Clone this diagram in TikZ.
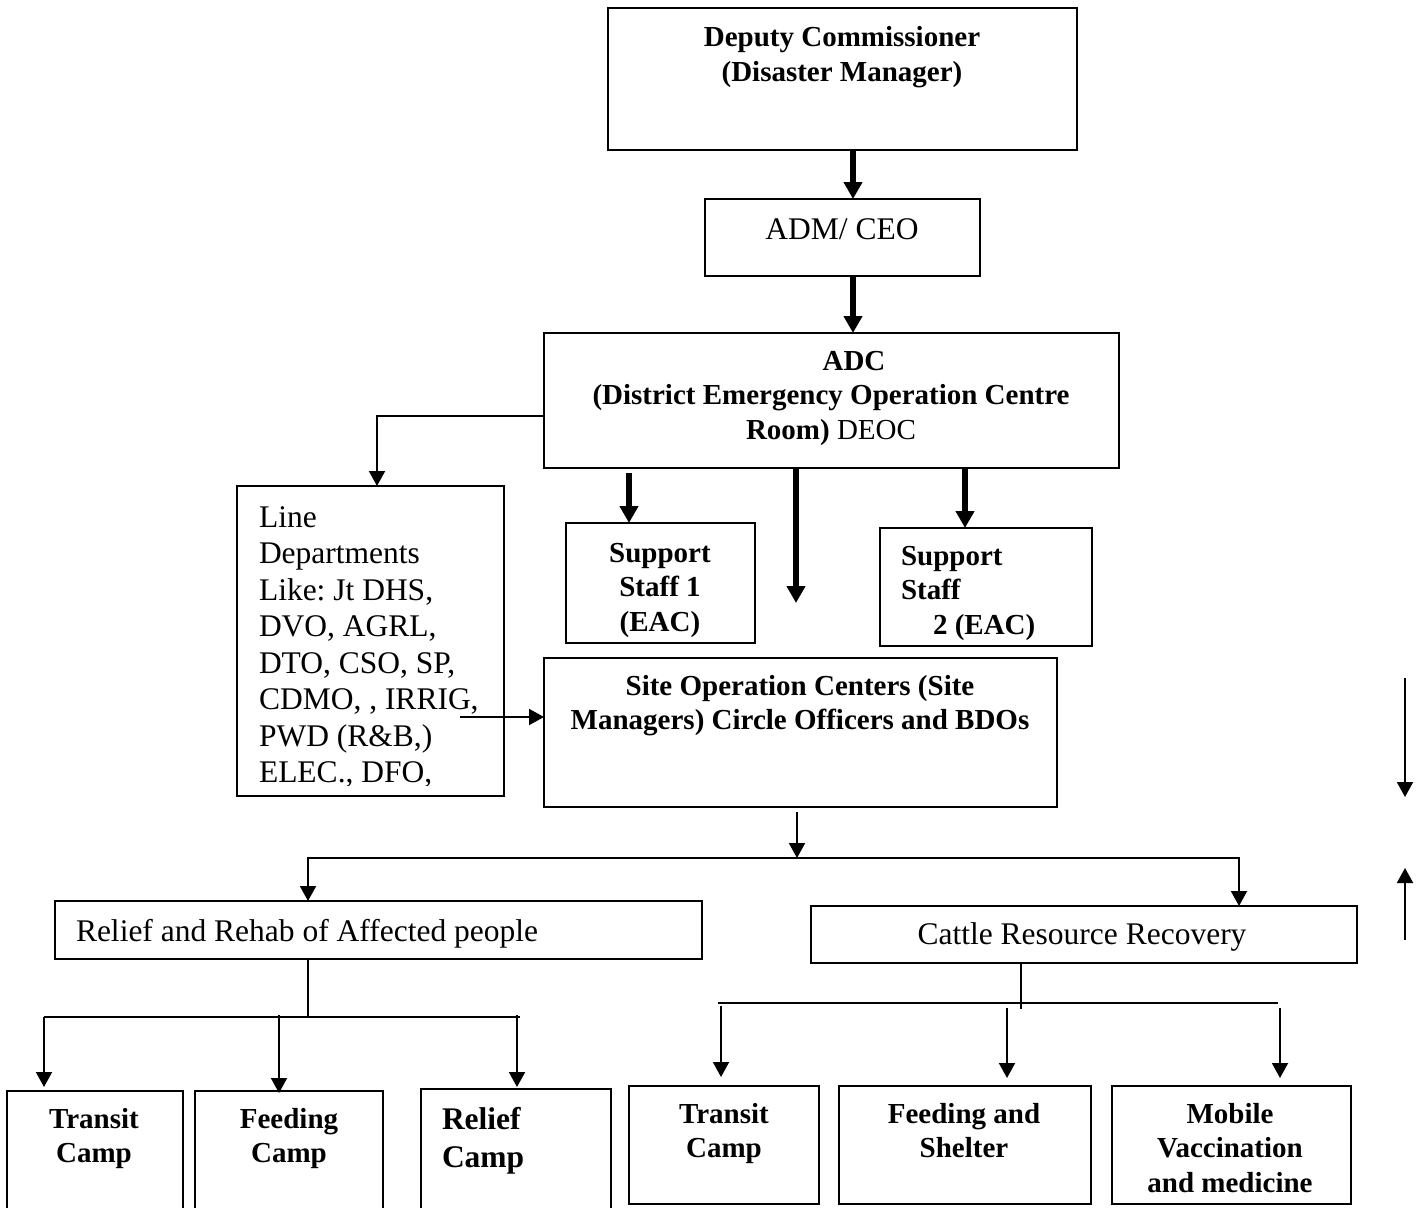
\documentclass[tikz,border=0pt]{standalone}
\usepackage{fontspec}
\setmainfont{Liberation Serif}
\usetikzlibrary{arrows.meta,calc}
\frenchspacing
\newcommand\rgfont{\fontsize{31.5}{36.5}\selectfont}
\newcommand\bdfont{\fontsize{29}{34.5}\selectfont\bfseries}
\newcommand\bdbigfont{\fontsize{31.5}{38}\selectfont\bfseries}
\newcommand\mkbox[5]{\node[box,minimum width={#4-#2},minimum height={#5-#3}] (#1) at ({(#2+#4)/2},{(#3+#5)/2}) {};}
\tikzset{
  box/.style={draw,line width=2.5pt,inner sep=0pt,outer sep=0pt},
  lbl/.style={inner sep=0pt,outer sep=0pt,anchor=base},
  lbll/.style={inner sep=0pt,outer sep=0pt,anchor=base west},
  thinln/.style={line width=2pt},
  thinarr/.style={line width=2pt,-{Triangle[length=15pt,width=16pt]}},
  thkarr/.style={line width=5.5pt,-{Triangle[length=17pt,width=18pt]}},
}
\begin{document}
\begin{tikzpicture}[x=1pt,y=-1pt]
\useasboundingbox (0,0) rectangle (1421,1207);
% boxes
\mkbox{dc}{608}{8}{1077}{150}
\mkbox{adm}{705}{199}{980}{276}
\mkbox{adc}{544}{333}{1119}{468}
\mkbox{line}{237}{486}{504}{796}
\mkbox{ss1}{566}{523}{755}{643}
\mkbox{ss2}{880}{528}{1092}{646}
\mkbox{site}{544}{658}{1057}{807}
\mkbox{rr}{55}{901}{702}{959}
\mkbox{crr}{811}{906}{1357}{963}
\mkbox{t1}{7}{1091}{183}{1215}
\mkbox{f1}{195}{1091}{383}{1215}
\mkbox{r1}{421}{1089}{611}{1215}
\mkbox{t2}{629}{1086}{819}{1204}
\mkbox{f2}{839}{1086}{1091}{1204}
\mkbox{m2}{1112}{1086}{1351}{1204}
% texts
\node[lbl] (dct) at (842,47) {\bdfont\begin{tabular}[t]{@{}c@{}}Deputy Commissioner\\(Disaster Manager)\end{tabular}};
\node[lbl] (admt) at (842,239) {\rgfont ADM/ CEO};
\node[lbl] (adct) at (831,370) {\bdfont\begin{tabular}[t]{@{}c@{}}\hspace*{46pt}ADC\\(District Emergency Operation Centre\\Room)\mdseries{} DEOC\end{tabular}};
\begin{scope}
\clip (237,486) rectangle (504,785);
\node[lbll] (linet) at (259,527) {\rgfont\begin{tabular}[t]{@{}l@{}}Line\\Departments\\Like: Jt DHS,\\DVO, AGRL,\\DTO, CSO, SP,\\CDMO, , IRRIG,\\PWD (R\&B,)\\ELEC., DFO,\end{tabular}};
\end{scope}
\node[lbl] (ss1t) at (660,562) {\bdfont\begin{tabular}[t]{@{}c@{}}Support\\Staff 1\\(EAC)\end{tabular}};
\node[lbll] (ss2t) at (901,565) {\bdfont\begin{tabular}[t]{@{}l@{}}Support\\Staff\\\hspace*{32pt}2 (EAC)\end{tabular}};
\node[lbl] (sitet) at (800,695) {\bdfont\begin{tabular}[t]{@{}c@{}}Site Operation Centers (Site\\Managers) Circle Officers and BDOs\end{tabular}};
\node[lbll] (rrt) at (76,941) {\rgfont Relief and Rehab of Affected people};
\node[lbl] (crrt) at (1082,944) {\rgfont Cattle Resource Recovery};
\node[lbl] (t1t) at (94,1128) {\bdfont\begin{tabular}[t]{@{}c@{}}Transit\\Camp\end{tabular}};
\node[lbl] (f1t) at (289,1128) {\bdfont\begin{tabular}[t]{@{}c@{}}Feeding\\Camp\end{tabular}};
\node[lbll] (r1t) at (442,1129) {\bdbigfont\begin{tabular}[t]{@{}l@{}}Relief\\Camp\end{tabular}};
\node[lbl] (t2t) at (724,1123) {\bdfont\begin{tabular}[t]{@{}c@{}}Transit\\Camp\end{tabular}};
\node[lbl] (f2t) at (964,1123) {\bdfont\begin{tabular}[t]{@{}c@{}}Feeding and\\Shelter\end{tabular}};
\node[lbl] (m2t) at (1230,1123) {\bdfont\begin{tabular}[t]{@{}c@{}}Mobile\\Vaccination\\and medicine\end{tabular}};
% connectors
\coordinate (xm) at (853,0);
\draw[thkarr] (dc.south -| xm) -- (adm.north -| xm);
\draw[thkarr] (adm.south -| xm) -- (adc.north -| xm);
\coordinate (ldl) at (377,416);
\draw[thinarr] (adc.west |- ldl) -| (line.north -| ldl);
\coordinate (xs1) at (629,0);
\coordinate (xs2) at (965,0);
\coordinate (freec) at (796,603);
\draw[thkarr] ($(adc.south -| xs1)+(0,5)$) -- (ss1.north -| xs1);
\draw[thkarr] (adc.south -| freec) -- (freec);
\draw[thkarr] (adc.south -| xs2) -- (ss2.north -| xs2);
\coordinate (ldr) at (460,717);
\draw[thinarr] (ldr) -- (site.west |- ldr);
\coordinate (bus) at (797,858);
\coordinate (bL) at (308,858);
\coordinate (bR) at (1239,858);
\draw[thinarr] ($(site.south -| bus)+(0,5)$) -- (bus);
\draw[thinarr] (bus) -| (rr.north -| bL);
\draw[thinarr] (bus) -| (crr.north -| bR);
% left subtree
\coordinate (h1) at (308,1017);
\coordinate (h1a) at (44,1017);
\coordinate (h1c) at (520,1017);
\draw[thinln] (rr.south -| h1) -- (h1);
\draw[thinln] (h1a) -- (h1c);
\draw[thinarr] (h1a) -- ($(t1.north -| h1a)+(0,-4)$);
\coordinate (xf1) at (279,1015);
\draw[thinarr] (xf1) -- ($(f1.north -| xf1)+(0,2)$);
\coordinate (xr1) at (517,1015);
\draw[thinarr] (xr1) -- ($(r1.north -| xr1)+(0,-2)$);
% right subtree
\coordinate (h2) at (1021,1009);
\coordinate (h2a) at (718,1003);
\coordinate (h2b) at (1278,1003);
\draw[thinln] (crr.south -| h2) -- (h2);
\draw[thinln] (h2a) -- (h2b);
\coordinate (xt2) at (721,1006);
\draw[thinarr] (xt2) -- ($(t2.north -| xt2)+(0,-9)$);
\coordinate (xf2) at (1007,1008);
\draw[thinarr] (xf2) -- ($(f2.north -| xf2)+(0,-8)$);
\coordinate (xm2) at (1280,1008);
\draw[thinarr] (xm2) -- ($(m2.north -| xm2)+(0,-8)$);
% right margin arrows
\coordinate (dA) at (1405,678);
\coordinate (dB) at (1405,797);
\draw[thinarr] (dA) -- (dB);
\coordinate (uA) at (1405,940);
\coordinate (uB) at (1405,868);
\draw[thinarr] (uA) -- (uB);
\end{tikzpicture}
\end{document}
